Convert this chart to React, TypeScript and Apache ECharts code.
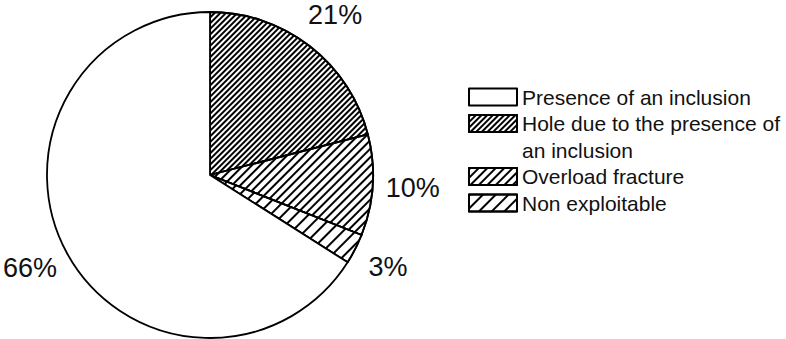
import React, { useEffect, useRef } from 'react';
import * as echarts from 'echarts';

// ---- data ----
const categories = [
  'Hole due to the presence of an inclusion',
  'Overload fracture',
  'Non exploitable',
  'Presence of an inclusion',
];
const values = [21, 10, 3, 66];
const legendOrder = [
  'Presence of an inclusion',
  'Hole due to the presence of an inclusion',
  'Overload fracture',
  'Non exploitable',
];
const legendLabels: Record<string, string> = {
  'Hole due to the presence of an inclusion': '\nHole due to the presence of\nan inclusion',
};

// ---- styling ----
const FONT = '"Liberation Sans", Arial, Helvetica, sans-serif';
const hatchGap = [2, 4, 7, 0]; // gap between hatch lines, 0 = no hatch
const labelShift = [
  [-16, -19],
  [-7, 2],
  [-5, 11],
  [8, 7],
];
const LH = 26.5;

export default function App() {
  const ref = useRef<HTMLDivElement>(null);
  useEffect(() => {
    if (!ref.current) return;
    const chart = echarts.init(ref.current, undefined, { renderer: 'svg' });
    const data = categories.map((name, i) => ({
      name,
      value: values[i],
      itemStyle: {
        color: '#fff',
        borderColor: '#000',
        borderWidth: 1.8,
        decal:
          hatchGap[i] > 0
            ? {
                symbol: 'rect',
                symbolSize: 1,
                color: '#000',
                backgroundColor: '#fff',
                dashArrayX: [10, 0],
                dashArrayY: [1.2, hatchGap[i]],
                rotation: -Math.PI / 4,
              }
            : 'none',
      },
    }));
    const legendData = legendOrder.map((name) => {
      if (name === 'Overload fracture') {
        return { name, textStyle: { padding: [LH, 0, LH, 0] } };
      }
      return { name };
    });
    chart.setOption({
      animation: false,
      legend: {
        orient: 'vertical',
        left: 468,
        top: 97 - LH / 2,
        padding: 0,
        itemGap: -LH,
        itemWidth: 48,
        itemHeight: 17,
        icon: 'rect',
        selectedMode: false,
        data: legendData,
        formatter: (n: string) => legendLabels[n] || n,
        textStyle: {
          fontFamily: FONT,
          fontSize: 21,
          lineHeight: LH,
          color: '#111',
          padding: 0,
        },
      },
      series: [
        {
          type: 'pie',
          center: [210, 175],
          radius: 163,
          startAngle: 90,
          clockwise: true,
          avoidLabelOverlap: false,
          silent: true,
          emphasis: { disabled: true },
          data,
          label: {
            show: true,
            position: 'outside',
            formatter: '{c}%',
            fontFamily: FONT,
            fontSize: 27,
            color: '#111',
          },
          labelLine: { show: false, length: 15, length2: 0 },
          labelLayout: (p: any) => ({
            dx: labelShift[p.dataIndex][0],
            dy: labelShift[p.dataIndex][1],
          }),
        },
      ],
    });
    return () => chart.dispose();
  }, []);
  return (
    <div
      ref={ref}
      style={{ position: 'fixed', left: 0, top: 0, width: 786, height: 339, background: '#fff' }}
    />
  );
}
